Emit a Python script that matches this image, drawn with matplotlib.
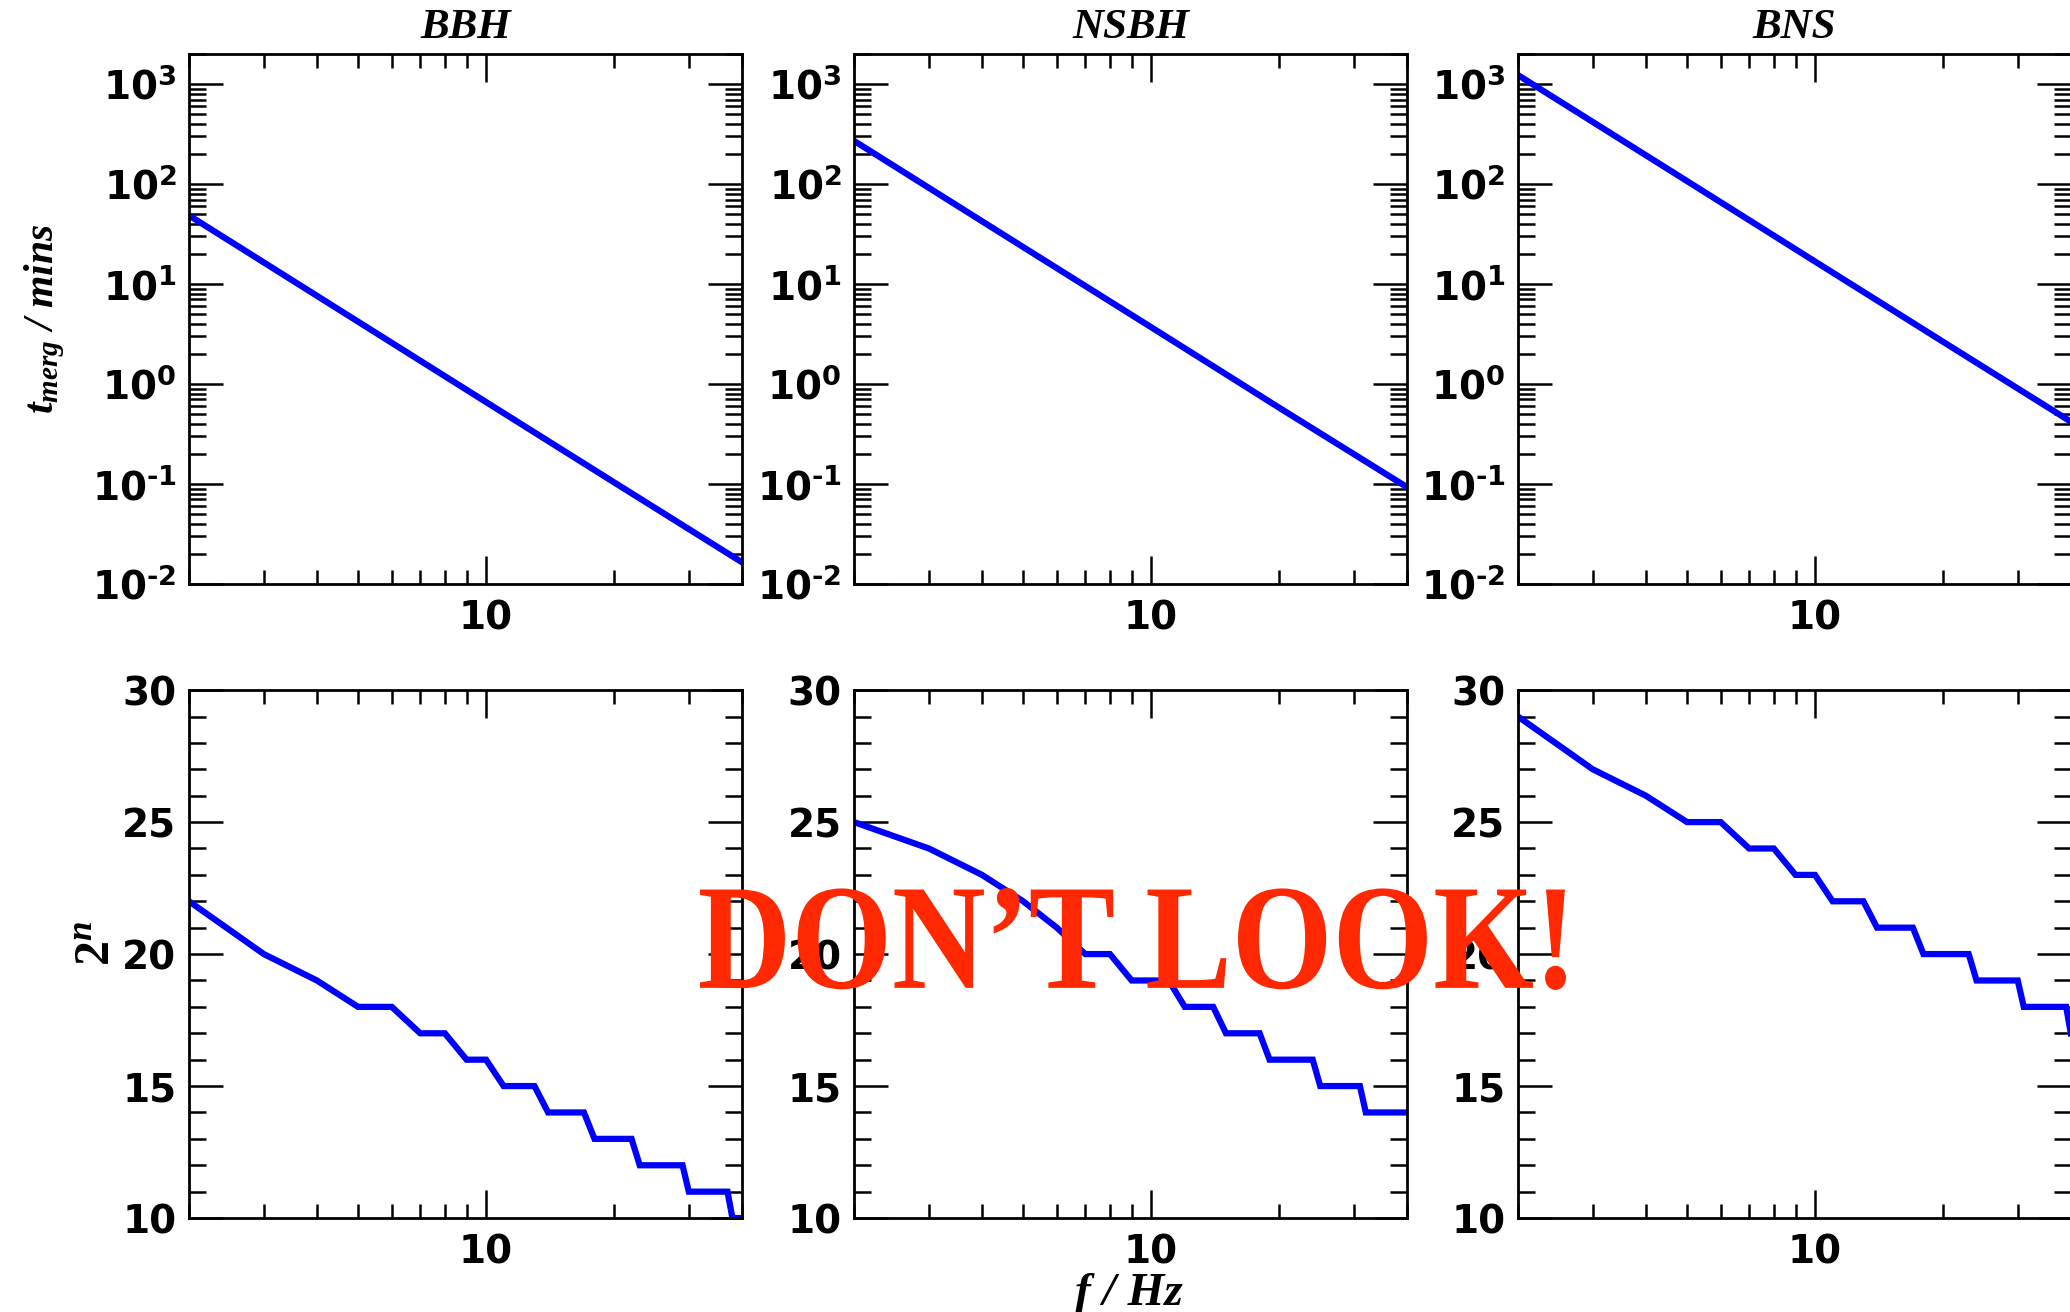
import numpy as np
import matplotlib
matplotlib.use('Agg')
from matplotlib import pyplot as plt
from matplotlib.ticker import LogLocator, FuncFormatter, NullFormatter, MultipleLocator
from matplotlib.textpath import TextPath
from matplotlib.patches import PathPatch
from matplotlib.font_manager import FontProperties
from matplotlib.transforms import Affine2D

plt.rcParams['font.family'] = 'DejaVu Sans'
plt.rcParams['font.weight'] = 'bold'
plt.rcParams['mathtext.fontset'] = 'custom'
plt.rcParams['mathtext.bf'] = 'DejaVu Sans:bold'
plt.rcParams['mathtext.it'] = 'Liberation Serif:italic:bold'
plt.rcParams['mathtext.rm'] = 'Liberation Serif:bold'

sources = ['BBH', 'NSBH', 'BNS']

# time to merger (minutes) vs starting frequency
f_line = [2, 5, 10, 20, 40]
t_bbh = [48.5, 4.2, 0.66, 0.104, 0.0165]
t_nsbh = [270, 23.4, 3.7, 0.58, 0.093]
t_bns = [1230, 107, 16.8, 2.65, 0.42]

# power of two for the segment length, one value per integer Hz from 2 to 40
f_int = list(range(2, 41))
n_bbh = [22, 20, 19, 18, 18, 17, 17, 16, 16, 15, 15, 15, 14, 14, 14, 14, 13, 13, 13, 13,
         13, 12, 12, 12, 12, 12, 12, 12, 11, 11, 11, 11, 11, 11, 11, 11, 10, 10, 10]
n_nsbh = [25, 24, 23, 22, 21, 20, 20, 19, 19, 19, 18, 18, 18, 17, 17, 17, 17, 16, 16, 16,
          16, 16, 16, 15, 15, 15, 15, 15, 15, 15, 14, 14, 14, 14, 14, 14, 14, 14, 14]
n_bns = [29, 27, 26, 25, 25, 24, 24, 23, 23, 22, 22, 22, 21, 21, 21, 21, 20, 20, 20, 20,
         20, 20, 19, 19, 19, 19, 19, 19, 19, 18, 18, 18, 18, 18, 18, 18, 18, 18, 17]

t_all = [t_bbh, t_nsbh, t_bns]
n_all = [n_bbh, n_nsbh, n_bns]

W, H = 2070, 1312
fig = plt.figure(figsize=(W / 100, H / 100), dpi=100)

lefts = [0.0913, 0.4126, 0.7333]
width = 0.2671
serif = dict(family='Liberation Serif', weight='bold', style='italic')


def decade_label(v, p):
    e = int(round(np.log10(v)))
    s = str(e).replace('-', '\u2010')
    return r'$\mathbf{10^{%s}}$' % s


def style_axes(ax):
    ax.set_xscale('log')
    ax.set_xlim(2, 40)
    ax.xaxis.set_major_locator(LogLocator(base=10))
    ax.xaxis.set_minor_locator(LogLocator(base=10, subs=np.arange(2, 10)))
    ax.xaxis.set_major_formatter(FuncFormatter(lambda v, p: '%d' % v))
    ax.xaxis.set_minor_formatter(NullFormatter())
    ax.tick_params(which='both', direction='in', top=True, right=True, width=1.8,
                   labelsize=28)
    ax.tick_params(axis='x', which='major', length=20, pad=11)
    ax.tick_params(axis='x', which='minor', length=10)
    ax.tick_params(axis='y', which='major', length=24.5, pad=9)
    ax.tick_params(axis='y', which='minor', length=12)
    for s in ax.spines.values():
        s.set_linewidth(2.0)


for i in range(3):
    ax1 = fig.add_axes([lefts[i], 0.5549, width, 0.4040])
    ax1.plot(f_line, t_all[i], color='blue', lw=4.5)
    style_axes(ax1)
    ax1.set_yscale('log')
    ax1.set_ylim(1e-2, 2e3)
    ax1.yaxis.set_major_locator(LogLocator(base=10, numticks=20))
    ax1.yaxis.set_minor_locator(LogLocator(base=10, subs=np.arange(2, 10), numticks=20))
    ax1.yaxis.set_major_formatter(FuncFormatter(decade_label))
    ax1.yaxis.set_minor_formatter(NullFormatter())

    ax2 = fig.add_axes([lefts[i], 0.0716, width, 0.4024])
    ax2.plot(f_int, n_all[i], color='blue', lw=4.5, solid_joinstyle='miter')
    style_axes(ax2)
    ax2.set_ylim(10, 30)
    ax2.yaxis.set_major_locator(MultipleLocator(5))
    ax2.yaxis.set_minor_locator(MultipleLocator(1))
    ax2.yaxis.set_major_formatter(FuncFormatter(lambda v, p: '%d' % v))

    fig.text(lefts[i] + width / 2, 0.979, sources[i], ha='center', va='center',
             fontsize=31, **serif)

fig.text(0.0215, 0.757, r'$t_{merg}$ / mins', rotation=90, ha='center', va='center',
         fontsize=30, **serif)
fig.text(0.0475, 0.281, r'$\mathit{2}^{n}$', rotation=90, ha='center', va='center',
         fontsize=36, **serif)
fig.text(0.5454, 0.014, 'f / Hz', ha='center', va='center', fontsize=34, **serif)

# red stamp across the lower row
tp = TextPath((0, 0), 'DON\u2019T LOOK!', size=100,
              prop=FontProperties(family='Liberation Serif', weight='bold'))
ext = tp.get_extents()
x0, x1, y0, y1 = 700, 1566, H - 990, H - 888
tr = (Affine2D().translate(-ext.x0, -ext.y0)
      .scale((x1 - x0) / ext.width, (y1 - y0) / ext.height)
      .translate(x0, y0).scale(1 / W, 1 / H))
stamp = PathPatch(tr.transform_path(tp), facecolor='#ff2800', edgecolor='none',
                  transform=fig.transFigure, zorder=10)
fig.add_artist(stamp)

fig.savefig('out.png', dpi=100)
